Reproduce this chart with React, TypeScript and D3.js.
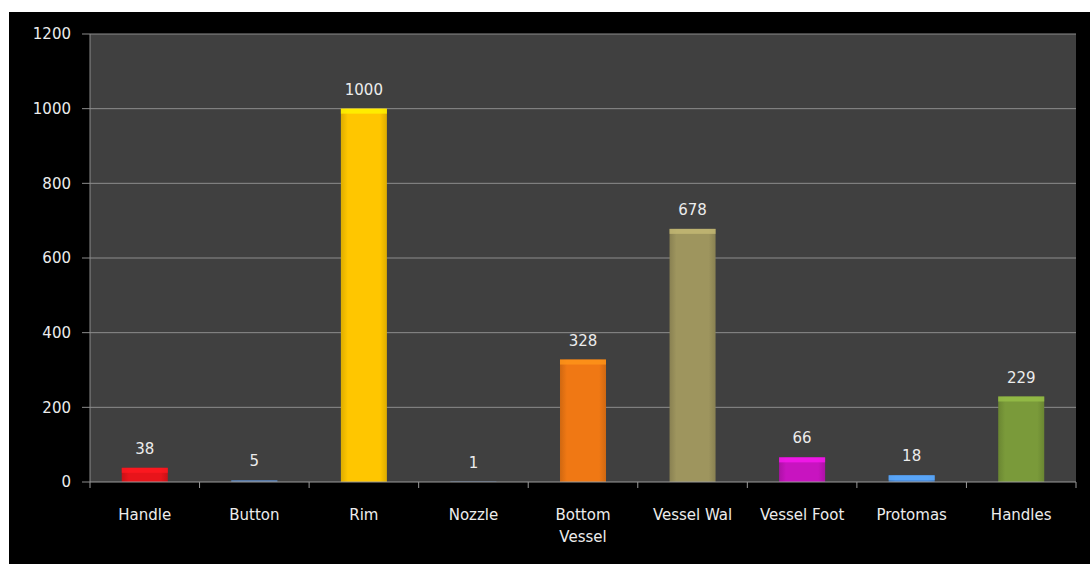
import React from "react";
import * as d3 from "d3";

const categories = ["Handle", "Button", "Rim", "Nozzle", "Bottom Vessel", "Vessel Wal", "Vessel Foot", "Protomas", "Handles"];
const values = [38, 5, 1000, 1, 328, 678, 66, 18, 229];
const colors = ["#e8141a", "#4a6890", "#ffc600", "#4a6890", "#f07814", "#9e955e", "#c814c0", "#4a8ad8", "#7a9a3a"];
const yTicks = [0, 200, 400, 600, 800, 1000, 1200];

const W = 1090, H = 565;
const frame = { x: 9, y: 12, w: 1081, h: 552 };
const plot = { left: 90, right: 1076, top: 34, bottom: 482 };
const FONT = "DejaVu Sans, sans-serif";
const FS = 15;

export default function App() {
  const x = d3.scaleBand().domain(categories).range([plot.left, plot.right]).paddingInner(0.58).paddingOuter(0.29);
  const xb = d3.scaleBand().domain(categories).range([plot.left, plot.right]);
  const y = d3.scaleLinear().domain([0, 1200]).range([plot.bottom, plot.top]);

  return (
    <svg width={W} height={H} style={{ position: "absolute", left: 0, top: 0, background: "#fff" }}>
      <defs>
        {colors.map((c, i) => (
          <linearGradient key={i} id={`g${i}`} x1="0" x2="1" y1="0" y2="0">
            <stop offset="0" stopColor={d3.color(c)!.darker(0.4).toString()} />
            <stop offset="0.15" stopColor={c} />
            <stop offset="0.85" stopColor={c} />
            <stop offset="1" stopColor={d3.color(c)!.darker(0.4).toString()} />
          </linearGradient>
        ))}
      </defs>
      <rect x={frame.x} y={frame.y} width={frame.w} height={frame.h} fill="#000" />
      <rect x={plot.left} y={plot.top} width={plot.right - plot.left} height={plot.bottom - plot.top} fill="#404040" />
      {yTicks.map((t) => (
        <g key={t}>
          {t > 0 && <line x1={plot.left} x2={plot.right} y1={y(t)} y2={y(t)} stroke="#8c8c8c" strokeWidth={1} />}
          <line x1={plot.left - 8} x2={plot.left} y1={y(t)} y2={y(t)} stroke="#8c8c8c" />
          <text x={plot.left - 19} y={y(t)} dy="0.35em" textAnchor="end" fill="#ececec" fontFamily={FONT} fontSize={FS}>{t}</text>
        </g>
      ))}
      <line x1={plot.left} x2={plot.left} y1={plot.top} y2={plot.bottom} stroke="#8c8c8c" />
      {categories.map((c, i) => {
        const bx = x(c)!;
        const bw = x.bandwidth();
        const by = y(values[i]);
        const bh = plot.bottom - by;
        const hl = Math.min(5, bh);
        return (
          <g key={c}>
            <rect x={bx} y={by} width={bw} height={bh} fill={`url(#g${i})`} />
            <rect x={bx} y={by} width={bw} height={hl} fill={d3.color(colors[i])!.brighter(0.6).toString()} opacity={0.8} />
            <text x={bx + bw / 2} y={by - 14} textAnchor="middle" fill="#ececec" fontFamily={FONT} fontSize={FS}>{values[i]}</text>
          </g>
        );
      })}
      <line x1={plot.left} x2={plot.right} y1={plot.bottom} y2={plot.bottom} stroke="#9a9a9a" />
      {categories.map((c) => (
        <line key={c} x1={xb(c)! + xb.bandwidth()} x2={xb(c)! + xb.bandwidth()} y1={plot.bottom} y2={plot.bottom + 6} stroke="#9a9a9a" />
      ))}
      <line x1={plot.left} x2={plot.left} y1={plot.bottom} y2={plot.bottom + 6} stroke="#9a9a9a" />
      {categories.map((c) => {
        const cx = xb(c)! + xb.bandwidth() / 2;
        const lines = c === "Bottom Vessel" ? ["Bottom", "Vessel"] : [c];
        return (
          <text key={c} x={cx} y={520} textAnchor="middle" fill="#ececec" fontFamily={FONT} fontSize={FS}>
            {lines.map((l, k) => (
              <tspan key={k} x={cx} dy={k === 0 ? 0 : 22}>{l}</tspan>
            ))}
          </text>
        );
      })}
    </svg>
  );
}
